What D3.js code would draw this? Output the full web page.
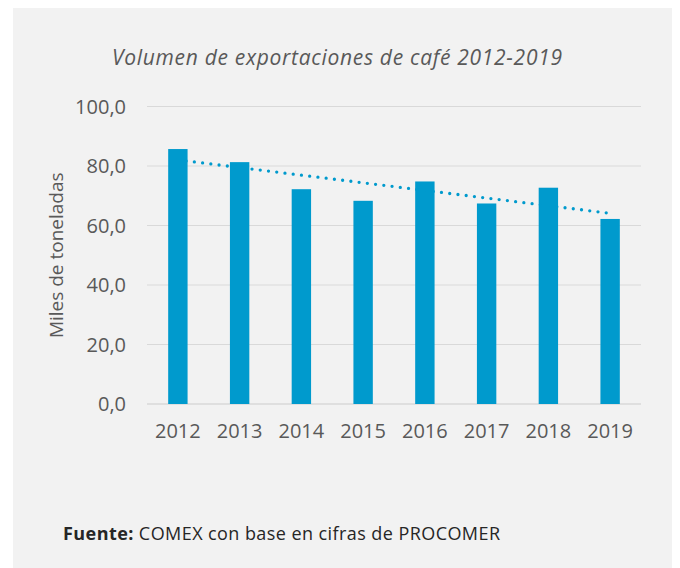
<!DOCTYPE html>
<html>
<head>
<meta charset="utf-8">
<script src="https://cdn.jsdelivr.net/npm/d3@7"></script>
<style>
  body { margin: 0; background: #fff; }
  svg { display: block; }
  text { font-family: "Open Sans", Lato, sans-serif; fill: #595959; }
</style>
</head>
<body>
<svg id="chart"></svg>
<script>
const years = ['2012', '2013', '2014', '2015', '2016', '2017', '2018', '2019'];
const volumes = [85.7, 81.3, 72.2, 68.3, 74.8, 67.4, 72.7, 62.2];
const yTicks = [0, 20, 40, 60, 80, 100];

const W = 680, H = 568;
const margin = { top: 106.5, right: 39, bottom: 164, left: 147 };
const width = W - margin.left - margin.right;
const height = H - margin.top - margin.bottom;

const svg = d3.select('#chart').attr('width', W).attr('height', H);

// panel background
svg.append('rect')
  .attr('x', 13).attr('y', 8)
  .attr('width', 659).attr('height', H - 8)
  .attr('fill', '#f2f2f2');

svg.append('text')
  .attr('x', 337).attr('y', 65)
  .attr('text-anchor', 'middle')
  .attr('textLength', 450)
  .attr('lengthAdjust', 'spacing')
  .style('font-size', '21px')
  .style('font-style', 'italic')
  .text('Volumen de exportaciones de café 2012-2019');

const g = svg.append('g')
  .attr('transform', `translate(${margin.left},${margin.top})`);

const x = d3.scaleBand().domain(years).range([0, width]).paddingInner(0.686).paddingOuter(0.343);
const y = d3.scaleLinear().domain([0, 100]).range([height, 0]);

// gridlines
g.append('g')
  .selectAll('line')
  .data(yTicks)
  .join('line')
  .attr('x1', 0).attr('x2', width)
  .attr('y1', d => y(d)).attr('y2', d => y(d))
  .attr('stroke', '#d9d9d9')
  .attr('stroke-width', d => d === 0 ? 1.5 : 1.2);

// y tick labels
g.append('g')
  .selectAll('text')
  .data(yTicks)
  .join('text')
  .attr('x', -21)
  .attr('y', d => y(d))
  .attr('dy', '0.35em')
  .attr('text-anchor', 'end')
  .style('font-size', '20px')
  .text(d => d.toFixed(1).replace('.', ','));

// bars
g.append('g')
  .selectAll('rect')
  .data(volumes)
  .join('rect')
  .attr('x', (d, i) => x(years[i]))
  .attr('y', d => y(d))
  .attr('width', x.bandwidth())
  .attr('height', d => y(0) - y(d))
  .attr('fill', '#009acd');

// linear trend line
const n = volumes.length;
const xm = d3.mean(volumes, (d, i) => i);
const ym = d3.mean(volumes);
const slope = d3.sum(volumes, (d, i) => (i - xm) * (d - ym)) / d3.sum(volumes, (d, i) => (i - xm) ** 2);
const trend = i => ym + slope * (i - xm);
const cx = i => x(years[i]) + x.bandwidth() / 2;

g.append('line')
  .attr('x1', cx(0)).attr('y1', y(trend(0)))
  .attr('x2', cx(n - 1)).attr('y2', y(trend(n - 1)))
  .attr('stroke', '#009acd')
  .attr('stroke-width', 3.3)
  .attr('stroke-linecap', 'round')
  .attr('stroke-dasharray', '0,8.3');

// x labels
g.append('g')
  .selectAll('text')
  .data(years)
  .join('text')
  .attr('x', d => x(d) + x.bandwidth() / 2)
  .attr('y', height + 34)
  .attr('text-anchor', 'middle')
  .style('font-size', '20px')
  .text(d => d);

// y axis title
svg.append('text')
  .attr('transform', `translate(63,${margin.top + height / 2}) rotate(-90)`)
  .attr('text-anchor', 'middle')
  .style('font-size', '19px')
  .text('Miles de toneladas');

// source note
const note = svg.append('text')
  .attr('x', 63).attr('y', 540)
  .attr('textLength', 437)
  .attr('lengthAdjust', 'spacing')
  .style('font-size', '18px')
  .style('fill', '#262626');
note.append('tspan').style('font-weight', 'bold').text('Fuente:');
note.append('tspan').text(' COMEX con base en cifras de PROCOMER');
</script>
</body>
</html>
